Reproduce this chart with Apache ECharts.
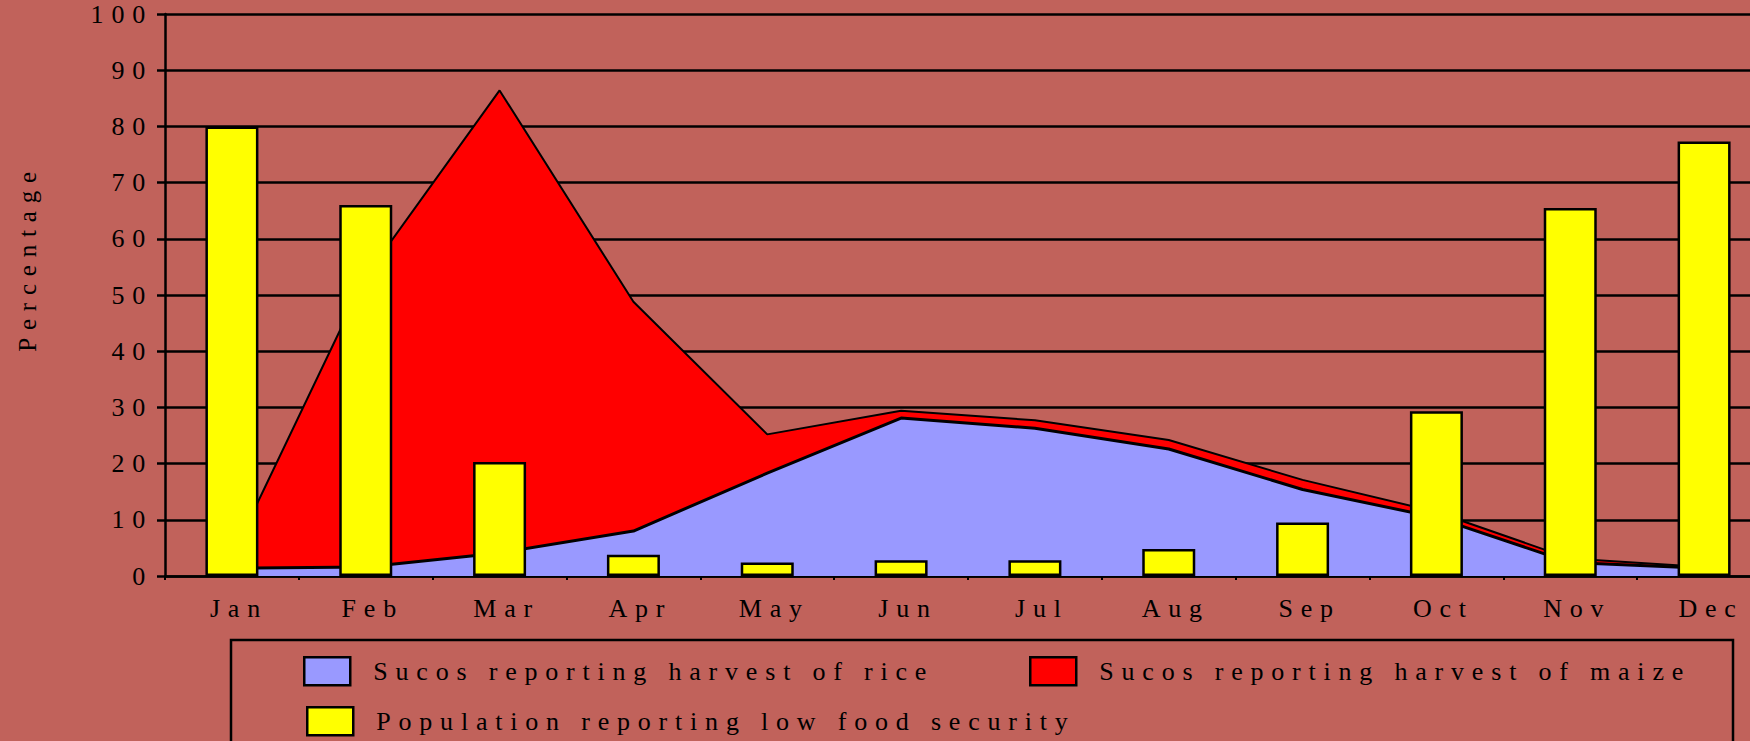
<!DOCTYPE html>
<html>
<head>
<meta charset="utf-8">
<script src="https://cdn.jsdelivr.net/npm/echarts@6/dist/echarts.min.js"></script>
<style>
  html, body { margin: 0; padding: 0; background: #c1625b; }
  #harvestChart { width: 1750px; height: 741px; }
  /* the original uses widely spaced lettering everywhere */
  #harvestChart text { letter-spacing: 7.8px; }
</style>
</head>
<body>
<div id="harvestChart"></div>
<script>
const months = ["Jan", "Feb", "Mar", "Apr", "May", "Jun", "Jul", "Aug", "Sep", "Oct", "Nov", "Dec"];
// % of sucos reporting harvest of rice
const riceHarvest = [1.4, 1.6, 4.1, 8.0, 18.3, 28.1, 26.3, 22.6, 15.4, 10.4, 2.4, 1.4];
// % of sucos reporting harvest of maize
const maizeHarvest = [3.5, 53.3, 86.4, 48.8, 25.2, 29.4, 27.7, 24.2, 17.1, 11.4, 3.1, 1.6];
// % of population reporting low food security
const lowFoodSecurity = [80, 66, 20.3, 3.8, 2.4, 2.8, 2.8, 4.8, 9.5, 29.3, 65.5, 77.3];

const riceName = "Sucos reporting harvest of rice";
const maizeName = "Sucos reporting harvest of maize";
const foodName = "Population reporting low food security";

const font = "Liberation Serif";
const ink = "#000";

const myChart = echarts.init(document.querySelector("#harvestChart"), null, { renderer: "svg" });

const legendBase = {
  orient: "horizontal",
  itemWidth: 46,
  itemHeight: 28,
  icon: "rect",
  itemStyle: { borderColor: ink, borderWidth: 2.5 },
  textStyle: { fontFamily: font, fontSize: 26, color: ink, padding: [0, 0, 0, 18] },
  selectedMode: false,
};

myChart.setOption({
  animation: false,
  backgroundColor: "#c1625b",
  // plot runs past the right edge of the page, like the original
  grid: { left: 165, top: 14, width: 1606, height: 562, outerBoundsMode: "none" },
  legend: [
    Object.assign({}, legendBase, { left: 298, top: 651, data: [riceName] }),
    Object.assign({}, legendBase, { left: 1024, top: 651, data: [maizeName] }),
    Object.assign({}, legendBase, { left: 301, top: 701, data: [foodName] }),
  ],
  graphic: [
    {
      type: "rect",
      shape: { x: 231, y: 640, width: 1502, height: 140 },
      style: { fill: "none", stroke: ink, lineWidth: 2.5 },
    },
    {
      type: "text",
      x: 27,
      y: 258,
      rotation: Math.PI / 2,
      style: {
        text: "Percentage",
        fontFamily: font,
        fontSize: 25,
        fill: ink,
        align: "center",
        verticalAlign: "middle",
      },
    },
  ],
  xAxis: {
    type: "category",
    data: months,
    boundaryGap: true,
    axisLine: { lineStyle: { color: ink, width: 2.5 } },
    axisTick: { show: true, length: 4, lineStyle: { color: ink, width: 2 } },
    axisLabel: { margin: 19, padding: [0, 0, 0, 14], fontFamily: font, fontSize: 26, color: ink },
  },
  yAxis: {
    type: "value",
    min: 0,
    max: 100,
    interval: 10,
    axisLine: { show: true, lineStyle: { color: ink, width: 2.5 } },
    axisTick: { show: true, length: 8, lineStyle: { color: ink, width: 2.5 } },
    axisLabel: { margin: 12, fontFamily: font, fontSize: 26, color: ink },
    splitLine: { lineStyle: { color: ink, width: 2.5 } },
  },
  series: [
    {
      name: riceName,
      type: "line",
      data: riceHarvest,
      z: 3,
      symbol: "none",
      itemStyle: { color: "#9999ff" },
      lineStyle: { color: ink, width: 3 },
      areaStyle: { color: "#9999ff", opacity: 1 },
    },
    {
      name: maizeName,
      type: "line",
      data: maizeHarvest,
      z: 2,
      symbol: "none",
      itemStyle: { color: "#ff0000" },
      lineStyle: { color: ink, width: 2 },
      areaStyle: { color: "#ff0000", opacity: 1 },
    },
    {
      name: foodName,
      type: "bar",
      data: lowFoodSecurity,
      z: 4,
      barWidth: 53,
      itemStyle: { color: "#ffff00", borderColor: ink, borderWidth: 2.5 },
    },
  ],
});
</script>
</body>
</html>
